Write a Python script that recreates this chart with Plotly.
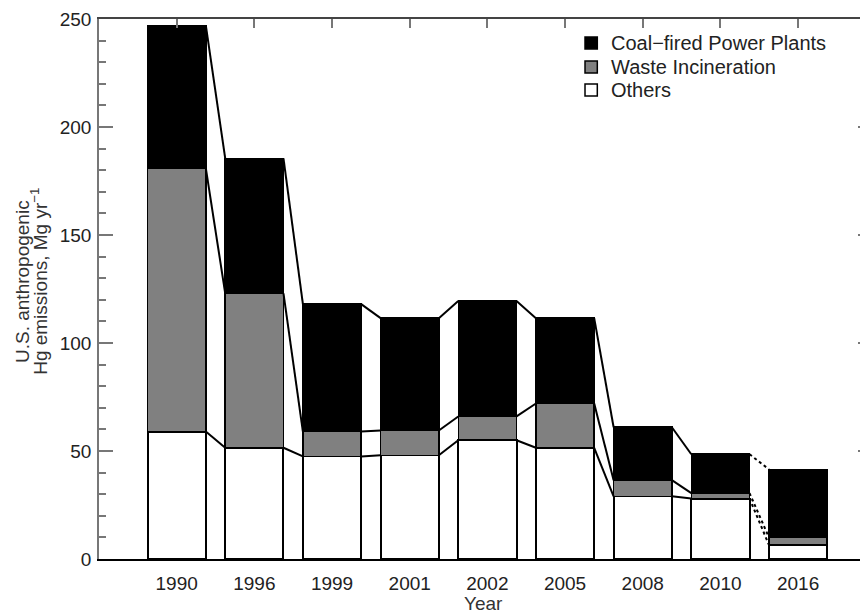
import plotly.graph_objects as go

# data (Mg/yr)
years = ['1990', '1996', '1999', '2001', '2002', '2005', '2008', '2010', '2016']
others = [59, 51.5, 47.5, 48, 55, 51.5, 29, 28, 6.5]
waste = [122, 71.5, 11.5, 11.5, 11, 20.5, 7.5, 2.5, 3.5]
coal = [66, 62.5, 59, 52, 53.5, 39.5, 24.5, 18, 31.5]
series_names = ['Coal\u2212fired Power Plants', 'Waste Incineration', 'Others']
series_colors = ['black', '#808080', 'white']

pos = list(range(len(years)))
bw = 0.75
font = 'Liberation Sans, Arial, sans-serif'

fig = go.Figure()
fig.add_trace(go.Bar(x=pos, y=others, width=bw, name=series_names[2],
                     marker=dict(color=series_colors[2], line=dict(color='black', width=2))))
fig.add_trace(go.Bar(x=pos, y=waste, width=bw, name=series_names[1],
                     marker=dict(color=series_colors[1], line=dict(color='black', width=1.5))))
fig.add_trace(go.Bar(x=pos, y=coal, width=bw, name=series_names[0],
                     marker=dict(color=series_colors[0], line=dict(color='black', width=1.5))))

# connector lines between neighbouring bars at each stack level
levels = [
    others,
    [o + w for o, w in zip(others, waste)],
    [o + w + c for o, w, c in zip(others, waste, coal)],
]
solid_x, solid_y, dot_x, dot_y = [], [], [], []
for lev in levels:
    for i in range(len(years) - 1):
        xs = [pos[i] + bw / 2, pos[i + 1] - bw / 2, None]
        ys = [lev[i], lev[i + 1], None]
        if years[i + 1] == '2016':
            dot_x += xs
            dot_y += ys
        else:
            solid_x += xs
            solid_y += ys
fig.add_trace(go.Scatter(x=solid_x, y=solid_y, mode='lines', showlegend=False,
                         line=dict(color='black', width=2), hoverinfo='skip'))
fig.add_trace(go.Scatter(x=dot_x, y=dot_y, mode='lines', showlegend=False,
                         line=dict(color='black', width=2, dash='dot'), hoverinfo='skip'))
# dummy trace so the top / right tick axes are drawn
fig.add_trace(go.Scatter(x=[None], y=[None], xaxis='x2', yaxis='y2',
                         showlegend=False, hoverinfo='skip'))

xr = [-1.0, 8.9]
yr = [0, 250]
# page body has an 8px margin, so the figure is drawn 8px in from the corner
fig.update_layout(
    width=860, height=604,
    margin=dict(l=91, r=0, t=11, b=53),
    plot_bgcolor='white', paper_bgcolor='white',
    barmode='stack',
    showlegend=False,
    font=dict(family=font, size=19, color='#222'),
    xaxis=dict(range=xr, tickvals=pos, ticktext=years, ticks='',
               showgrid=False, zeroline=False, showline=True,
               linecolor='black', linewidth=1.5, ticklabelstandoff=6),
    yaxis=dict(range=yr, tickvals=[0, 50, 100, 150, 200, 250], ticks='inside',
               ticklen=14, tickcolor='#777', tickwidth=1.5,
               minor=dict(dtick=10, ticks='inside', ticklen=7, tickcolor='#777'),
               showgrid=False, zeroline=False, showline=True,
               linecolor='#777', linewidth=1.5, ticklabelstandoff=2),
    xaxis2=dict(range=xr, overlaying='x', side='top', anchor='y', tickvals=pos,
                showticklabels=False, ticks='inside', ticklen=9,
                tickcolor='#777', tickwidth=1.5, showgrid=False, zeroline=False,
                showline=True, linecolor='#444', linewidth=1.5),
    yaxis2=dict(range=yr, overlaying='y', side='right', anchor='x',
                tickvals=[0, 50, 100, 150, 200, 250], showticklabels=False,
                ticks='inside', ticklen=10, tickcolor='#777', tickwidth=1.5,
                showgrid=False, zeroline=False, showline=True,
                linecolor='#444', linewidth=1.5),
)

# legend drawn by hand for its tight row spacing
row_y = [0.9556, 0.9111, 0.8685]
for name, col, ry in zip(series_names, series_colors, row_y):
    fig.add_shape(type='rect', xref='paper', yref='paper',
                  x0=0.632, x1=0.648, y0=ry - 0.0111, y1=ry + 0.0111,
                  fillcolor=col, line=dict(color='black', width=1.5))
    fig.add_annotation(text=name, xref='paper', yref='paper', x=0.663, y=ry,
                       xanchor='left', yanchor='middle', showarrow=False,
                       font=dict(size=20, color='#222'))

fig.add_annotation(text='U.S. anthropogenic', xref='paper', yref='paper',
                   x=-0.0994, y=0.514, textangle=-90, showarrow=False,
                   font=dict(size=19, color='#333'),
                   xanchor='center', yanchor='middle')
fig.add_annotation(text='Hg emissions, Mg yr<sup>\u22121</sup>', xref='paper', yref='paper',
                   x=-0.0775, y=0.514, textangle=-90, showarrow=False,
                   font=dict(size=19, color='#333'),
                   xanchor='center', yanchor='middle')
fig.add_annotation(text='Year', xref='paper', yref='paper', x=0.5, y=-0.0815,
                   showarrow=False, font=dict(size=19, color='#333'),
                   xanchor='center', yanchor='middle')

fig.write_html('out.html')
